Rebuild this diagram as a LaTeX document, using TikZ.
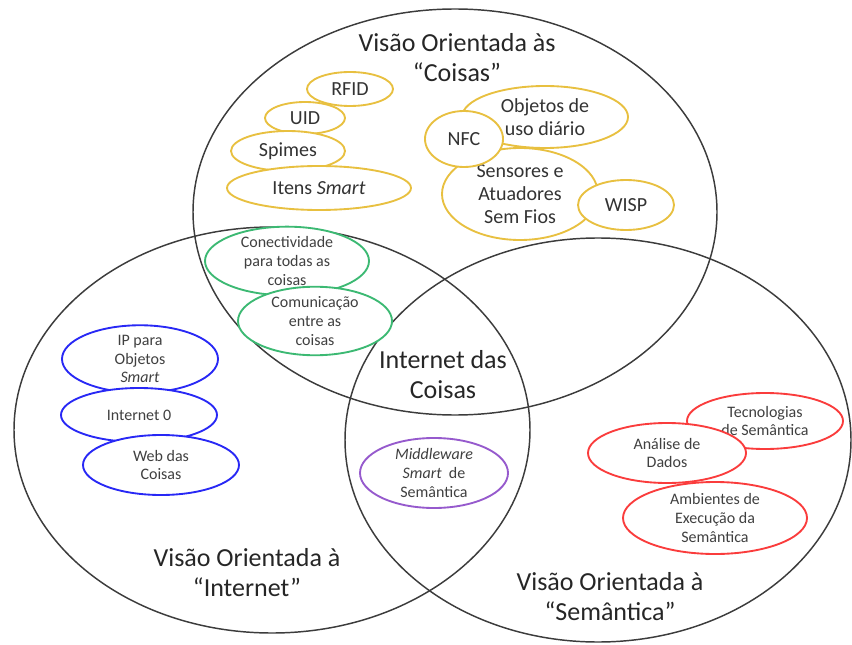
\documentclass[tikz,border=0pt]{standalone}
\usepackage{fontspec}
\setmainfont{Carlito}
\usetikzlibrary{shapes.geometric, positioning}
\definecolor{viewcolor}{RGB}{60, 60, 60}
\definecolor{thingcolor}{RGB}{232, 192, 64}
\definecolor{linkcolor}{RGB}{60, 185, 115}
\definecolor{netcolor}{RGB}{40, 40, 245}
\definecolor{midcolor}{RGB}{150, 90, 205}
\definecolor{semcolor}{RGB}{250, 60, 60}

\begin{document}
\begin{tikzpicture}[
    x=0.75pt, y=-0.75pt,
    view/.style={draw=viewcolor, line width=1.1pt},
    title/.style={font=\fontsize{19.5}{22.5}\selectfont, align=center, text=black!85},
    item/.style={ellipse, draw, fill=white, line width=1.4pt, inner sep=0pt, align=center, font=\fontsize{15}{17.5}\selectfont, text=black!80},
    small/.style={font=\fontsize{12}{14}\selectfont, text=black!75},
    oval/.style 2 args={minimum width=#1*0.75pt, minimum height=#2*0.75pt},
    thing/.style={item, draw=thingcolor},
    link/.style={item, small, draw=linkcolor},
    net/.style={item, small, draw=netcolor},
    mid/.style={item, small, draw=midcolor},
    sem/.style={item, small, draw=semcolor}
]
    \useasboundingbox (0,0) rectangle (852,645);

    % The three views
    \draw[view] (455,212) ellipse [x radius=262, y radius=203];
    \draw[view] (272,430) ellipse [x radius=258, y radius=203];
    \draw[view] (598,440) ellipse [x radius=253, y radius=202];

    \node[title] (coisas) at (457,58) {Visão Orientada às\\“Coisas”};
    \node[title] (internet) at (247,573) {Visão Orientada à\\“Internet”};
    \node[title] (semantica) at (610,597) {Visão Orientada à\\“Semântica”};
    \node[title] (iot) at (443,375) {Internet das\\Coisas};

    % Things
    \node[thing, oval={86}{34}] (rfid) at (350,89) {RFID};
    \node[thing, oval={80}{32}] (uid) at (305,118) {UID};
    \node[thing, oval={114}{40}] (spimes) at (288,151) {Spimes};
    \node[thing, oval={184}{44}] (itens) at (319,188) {Itens \textit{Smart}};
    \node[thing, oval={166}{62}] (objetos) at (545,117) {Objetos de\\uso diário};
    \node[thing, oval={156}{92}] (sensores) at (520,194) {Sensores e\\Atuadores\\Sem Fios};
    \node[thing, oval={78}{56}] (nfc) at (464,139) {NFC};
    \node[thing, oval={96}{50}] (wisp) at (626,205) {WISP};

    % Things + Internet
    \node[link, oval={164}{62}] (conect) at (287,261) {Conectividade\\para todas as\\coisas};
    \node[link, oval={154}{58}] (comunic) at (315,321) {Comunicação\\entre as\\coisas};

    % Internet
    \node[net, oval={156}{58}] (ip) at (140,359) {IP para\\Objetos\\\textit{Smart}};
    \node[net, oval={156}{54}] (inet0) at (139,415) {Internet 0};
    \node[net, oval={156}{60}] (web) at (161,465) {Web das\\Coisas};

    % Internet + Semantics
    \node[mid, oval={148}{70}] (middle) at (434,473) {\textit{Middleware}\\\textit{Smart}~ de\\Semântica};

    % Semantics
    \node[sem, oval={156}{56}] (tecno) at (765,421) {Tecnologias\\de Semântica};
    \node[sem, oval={158}{60}] (analise) at (667,453) {Análise de\\Dados};
    \node[sem, oval={184}{72}] (ambientes) at (715,518) {Ambientes de\\Execução da\\Semântica};
\end{tikzpicture}
\end{document}
